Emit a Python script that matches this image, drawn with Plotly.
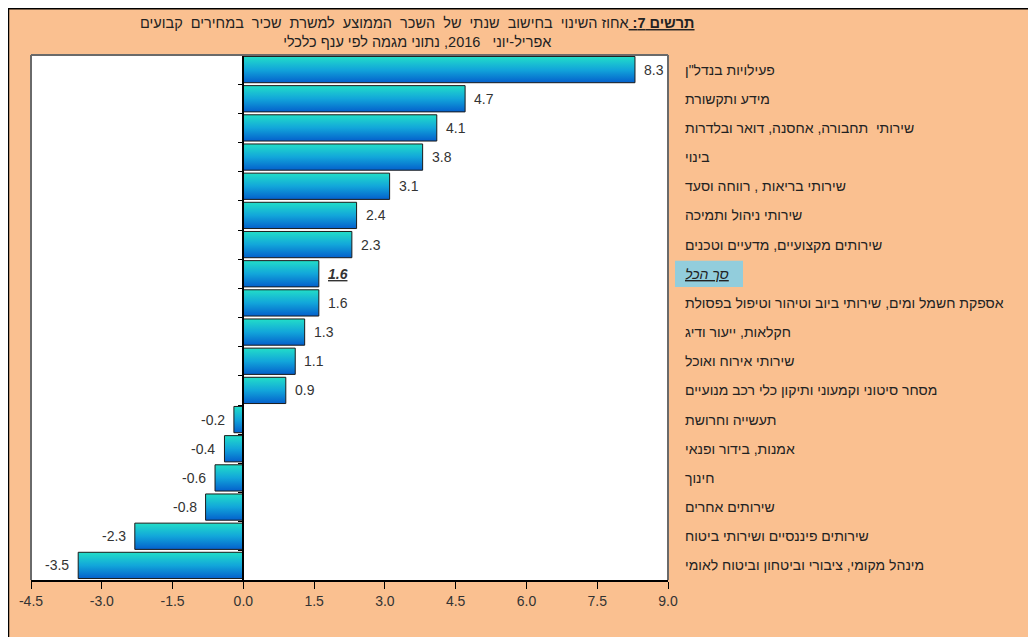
import plotly.graph_objects as go

# ---------------- data ----------------
categories = [
    'פעילויות בנדל"ן',
    'מידע ותקשורת',
    'שירותי  תחבורה, אחסנה, דואר ובלדרות',
    'בינוי',
    'שירותי בריאות , רווחה וסעד',
    'שירותי ניהול ותמיכה',
    'שירותים מקצועיים, מדעיים וטכנים',
    'סך הכל',
    'אספקת חשמל ומים, שירותי ביוב וטיהור וטיפול בפסולת',
    'חקלאות, ייעור ודיג',
    'שירותי אירוח ואוכל',
    'מסחר סיטוני וקמעוני ותיקון כלי רכב מנועיים',
    'תעשייה וחרושת',
    'אמנות, בידור ופנאי',
    'חינוך',
    'שירותים אחרים',
    'שירותים פיננסיים ושירותי ביטוח',
    'מינהל מקומי, ציבורי וביטחון וביטוח לאומי',
]
values = [8.3, 4.7, 4.1, 3.8, 3.1, 2.4, 2.3, 1.6, 1.6, 1.3, 1.1, 0.9,
          -0.2, -0.4, -0.6, -0.8, -2.3, -3.5]
total_label = 'סך הכל'
x_ticks = [-4.5, -3.0, -1.5, 0.0, 1.5, 3.0, 4.5, 6.0, 7.5, 9.0]
x_tick_labels = ['-4.5', '-3.0', '-1.5', '0.0', '1.5', '3.0', '4.5', '6.0', '7.5', '9.0']
title_prefix = 'תרשים 7:'
title_line1 = 'אחוז השינוי  בחישוב  שנתי  של  השכר  הממוצע  למשרת  שכיר  במחירים  קבועים'
title_line2 = 'אפריל-יוני   2016, נתוני מגמה לפי ענף כלכלי'

# ---------------- geometry helpers (figure pixels -> paper) ----------------
W, H = 1028, 629
L, T, R, B = 23, 47, 660, 572
PW, PH = R - L, B - T


def px_x(p):
    return (p - L) / PW


def px_y(p):
    return (B - p) / PH


FONT = "Liberation Sans, Arial, sans-serif"
ORANGE = "#FAC090"
half = 0.45

fig = go.Figure()

# bars drawn as gradient-filled polygons on the data axes
for i, v in enumerate(values):
    fig.add_trace(go.Scatter(
        x=[0, v, v, 0, 0],
        y=[i - half, i - half, i + half, i + half, i - half],
        mode="lines",
        fill="toself",
        line=dict(color="#1a1a1a", width=1),
        fillgradient=dict(type="vertical",
                          colorscale=[[0, "#0460CC"], [0.5, "#12A6DA"], [1, "#22DEC8"]]),
        hoverinfo="skip",
        showlegend=False,
    ))

annotations = []
# value labels
for i, v in enumerate(values):
    txt = f"{v:.1f}"
    if categories[i] == total_label:
        txt = f"<b><i><u>{txt}</u></i></b>"
    annotations.append(dict(
        x=v, y=i, xref="x", yref="y", text=txt, showarrow=False,
        xanchor="left" if v >= 0 else "right",
        xshift=7 if v >= 0 else -7,
        font=dict(family=FONT, size=14, color="#333333"),
    ))

# category labels on the right
for i, c in enumerate(categories):
    txt = c
    if c == total_label:
        txt = f"<i><u>{c}</u></i>"
    annotations.append(dict(
        x=px_x(675), y=i, xref="paper", yref="y", text=txt, showarrow=False,
        xanchor="left", yanchor="middle",
        font=dict(family=FONT, size=14, color="#222222"),
    ))

# title
annotations.append(dict(
    x=px_x(409), y=px_y(24), xref="paper", yref="paper",
    text=f"<b><u>{title_prefix} </u></b>{title_line1}<br>{title_line2}",
    showarrow=False, xanchor="center", yanchor="middle",
    font=dict(family=FONT, size=14.5, color="#222222"),
))

shapes = []
ti = categories.index(total_label)
# highlight box behind total label
shapes.append(dict(type="rect", xref="paper", yref="y",
                   x0=px_x(667), x1=px_x(735), y0=ti - 0.45, y1=ti + 0.45,
                   fillcolor="#92CDDC", line=dict(width=0), layer="below"))
# outer black border (top and left edges of the figure)
shapes.append(dict(type="line", xref="paper", yref="paper",
                   x0=px_x(0), x1=px_x(W + 5), y0=px_y(0.5), y1=px_y(0.5),
                   line=dict(color="black", width=2)))
shapes.append(dict(type="line", xref="paper", yref="paper",
                   x0=px_x(0.5), x1=px_x(0.5), y0=px_y(0), y1=px_y(H + 5),
                   line=dict(color="black", width=1.5)))
# plot-area border (left, top, right)
for (a, b, c, d) in [(0, 0, 0, 1), (0, 1, 1, 1), (1, 0, 1, 1)]:
    shapes.append(dict(type="line", xref="paper", yref="paper",
                       x0=a, y0=b, x1=c, y1=d,
                       line=dict(color="#6a6a6a", width=2)))

fig.update_layout(
    width=W, height=H,
    margin=dict(l=L, r=W - R, t=T, b=H - B, pad=0),
    paper_bgcolor=ORANGE,
    plot_bgcolor="white",
    font=dict(family=FONT, size=14, color="#333333"),
    showlegend=False,
    annotations=annotations,
    shapes=shapes,
    xaxis=dict(
        range=[-4.5, 9.0], tickvals=x_ticks, ticktext=x_tick_labels,
        showgrid=False, zeroline=False,
        showline=True, linecolor="black", linewidth=1.5,
        ticks="outside", ticklen=7, tickcolor="black", tickwidth=1,
        tickfont=dict(family=FONT, size=14, color="#333333"),
        fixedrange=True,
    ),
    yaxis=dict(
        range=[len(values) - 0.5, -0.5],
        anchor="free", position=(0 - (-4.5)) / 13.5,
        tickvals=[k - 0.5 for k in range(len(values) + 1)],
        showticklabels=False,
        showgrid=False, zeroline=False,
        showline=True, linecolor="black", linewidth=1.5,
        ticks="outside", ticklen=5, tickcolor="black",
        fixedrange=True,
    ),
)

fig.write_html("out.html")
